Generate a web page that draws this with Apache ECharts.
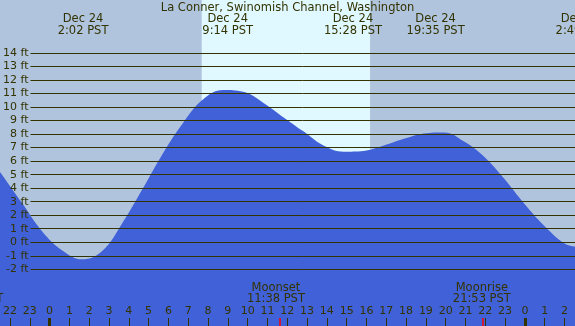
<!DOCTYPE html>
<html>
<head>
<meta charset="utf-8">
<style>
html, body { margin: 0; padding: 0; background: #b0c4de; }
#chart { width: 575px; height: 326px; }
</style>
<script src="https://cdn.jsdelivr.net/npm/echarts@6/dist/echarts.min.js"></script>
</head>
<body>
<div id="chart"></div>
<script>
var title = 'La Conner, Swinomish Channel, Washington'

// tide curve: hours after midnight Dec 24, height in ft
var tideHours = [-2.1, -2, -1, 0, 1, 2, 3, 4, 5, 6, 7, 8, 9, 10, 11, 12, 13, 14, 15, 16, 17, 18, 19, 20, 21, 22, 23, 24, 25, 26, 26.52]
var tideFeet = [5.2, 5.0, 2.9, 0.8, -0.6, -1.26, -0.62, 1.45, 3.95, 6.55, 8.8, 10.55, 11.25, 11.12, 10.32, 9.25, 8.2, 7.15, 6.7, 6.75, 7.15, 7.65, 8.05, 8.12, 7.45, 6.33, 4.7, 2.85, 1.2, -0.1, -0.33]

var extremeHours = [2.033, 9.233, 15.467, 19.583, 26.817]
var extremeLabels = ['Dec 24\n2:02 PST', 'Dec 24\n9:14 PST', 'Dec 24\n15:28 PST', 'Dec 24\n19:35 PST', 'Dec 25\n2:49 PST']

var moonHours = [-3.38, 11.633, 21.883]
var moonLabels = ['Moonrise\n20:37 PST', 'Moonset\n11:38 PST', 'Moonrise\n21:53 PST']

var sunrise = 7.94
var sunset = 16.32
var midnights = [0, 24]

var feetMin = -2
var feetMax = 14
var hourMin = -2
var hourMax = 26

var ink = '#333300'
var font = 'DejaVu Sans'
var labelFont = '11.5px "' + font + '"'

var chart = echarts.init(document.getElementById('chart'))

var tideData = tideHours.map(function (h, i) { return [h, tideFeet[i]] })

chart.setOption({
    animation: false,
    backgroundColor: '#b0c4de',
    grid: [
        { left: 0, right: 0, top: 0, bottom: 0 },
        { left: 29, right: 0, top: 53, bottom: 56.7 },
        { left: 2, right: 10.5, top: 318, bottom: 0 }
    ],
    xAxis: [
        { gridIndex: 0, type: 'value', min: -2.1, max: 26.52, show: false },
        { gridIndex: 1, type: 'value', min: 0, max: 1, show: false },
        {
            gridIndex: 2, type: 'value', min: hourMin, max: hourMax, interval: 1,
            position: 'bottom', z: 5,
            axisLine: { show: false },
            splitLine: { show: false },
            axisTick: { show: true, inside: true, length: 8, lineStyle: { color: ink, width: 1 } },
            axisLabel: {
                inside: true, margin: 9, color: ink, fontFamily: font, fontSize: 11,
                formatter: function (v) { return String(((v % 24) + 24) % 24) }
            }
        }
    ],
    yAxis: [
        { gridIndex: 0, type: 'value', min: -6.19, max: 17.91, show: false },
        {
            gridIndex: 1, type: 'value', min: feetMin, max: feetMax, interval: 1, z: 5,
            axisLine: { show: false },
            axisTick: { show: false },
            splitLine: { show: true, lineStyle: { color: ink, width: 1 } },
            axisLabel: { color: ink, fontFamily: font, fontSize: 11, margin: 2, formatter: '{value} ft' }
        },
        { gridIndex: 2, type: 'value', min: 0, max: 1, show: false }
    ],
    series: [
        {
            // daylight band
            type: 'line', xAxisIndex: 0, yAxisIndex: 0, data: [], z: 1,
            markArea: {
                silent: true,
                itemStyle: { color: '#e0f8ff' },
                data: [[{ xAxis: sunrise }, { xAxis: sunset }]]
            }
        },
        {
            type: 'line', xAxisIndex: 0, yAxisIndex: 0, z: 2,
            data: tideData,
            smooth: 0.4,
            showSymbol: false,
            lineStyle: { width: 0 },
            areaStyle: { color: '#4161d9', opacity: 1, origin: 'start' }
        },
        {
            // midnight and moon ticks
            type: 'line', xAxisIndex: 2, yAxisIndex: 2, data: [], z: 6,
            markLine: {
                silent: true, symbol: 'none', label: { show: false },
                data: midnights.map(function (h) {
                    return { xAxis: h, lineStyle: { color: ink, width: 3, type: 'solid' } }
                }).concat(moonHours.map(function (h) {
                    return { xAxis: h, lineStyle: { color: '#ff0000', width: 1.5, type: 'solid' } }
                }))
            }
        }
    ]
})

var texts = [{
    type: 'text', x: 287.5, y: 2, z: 100,
    style: { text: title, fill: ink, font: labelFont, textAlign: 'center' }
}]
extremeHours.forEach(function (h, i) {
    var x = chart.convertToPixel({ xAxisIndex: 0 }, h)
    texts.push({
        type: 'text', x: x, y: 13, z: 100,
        style: { text: extremeLabels[i], fill: ink, font: labelFont, textAlign: 'center', lineHeight: 12 }
    })
})
moonHours.forEach(function (h, i) {
    var x = chart.convertToPixel({ xAxisIndex: 0 }, h)
    texts.push({
        type: 'text', x: x, y: 283, z: 100,
        style: { text: moonLabels[i], fill: ink, font: labelFont, textAlign: 'center', lineHeight: 11 }
    })
})
chart.setOption({ graphic: texts })
</script>
</body>
</html>
